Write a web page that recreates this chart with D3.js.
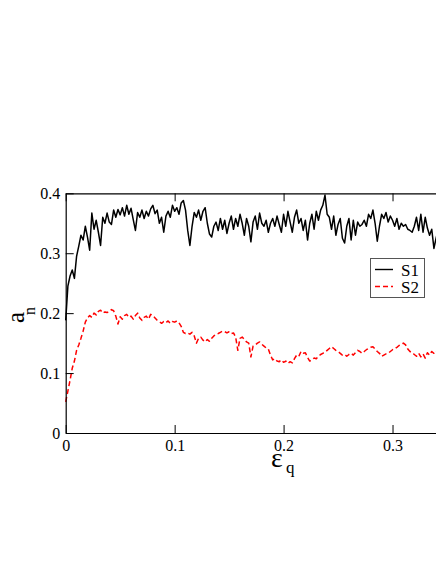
<!DOCTYPE html>
<html>
<head>
<meta charset="utf-8">
<script src="https://cdn.jsdelivr.net/npm/d3@7"></script>
<style>
  body { margin: 0; background: #fff; }
</style>
</head>
<body>
<svg width="436" height="564"></svg>
<script>
let width = 436,
    height = 564;

let serif = "Liberation Serif";

// x step of the sampled curves (epsilon_q)
let step = 0.002;

let xTicks = [0, 0.1, 0.2, 0.3];
let yTicks = [0, 0.1, 0.2, 0.3, 0.4];

let seriesNames = ["S1", "S2"];

let s1 = [
  0.188, 0.245, 0.262, 0.272, 0.258, 0.295, 0.312, 0.330, 0.322, 0.345,
  0.327, 0.305, 0.367, 0.340, 0.355, 0.335, 0.313, 0.360, 0.350, 0.367,
  0.352, 0.348, 0.372, 0.360, 0.373, 0.364, 0.376, 0.362, 0.380, 0.365,
  0.375, 0.356, 0.338, 0.368, 0.360, 0.372, 0.358, 0.370, 0.362, 0.374,
  0.380, 0.366, 0.372, 0.350, 0.360, 0.335, 0.362, 0.370, 0.360, 0.380,
  0.370, 0.376, 0.365, 0.384, 0.388, 0.372, 0.338, 0.313, 0.345, 0.368,
  0.360, 0.372, 0.355, 0.370, 0.376, 0.350, 0.332, 0.327, 0.345, 0.352,
  0.338, 0.358, 0.340, 0.355, 0.333, 0.350, 0.362, 0.340, 0.358, 0.345,
  0.365, 0.350, 0.330, 0.358, 0.345, 0.319, 0.352, 0.362, 0.340, 0.367,
  0.350, 0.345, 0.355, 0.335, 0.350, 0.358, 0.345, 0.362, 0.348, 0.335,
  0.365, 0.345, 0.370, 0.352, 0.335, 0.360, 0.372, 0.350, 0.358, 0.338,
  0.355, 0.322, 0.350, 0.365, 0.340, 0.370, 0.355, 0.372, 0.380, 0.397,
  0.365, 0.360, 0.340, 0.362, 0.330, 0.348, 0.358, 0.325, 0.317, 0.345,
  0.358, 0.322, 0.355, 0.330, 0.352, 0.345, 0.348, 0.355, 0.345, 0.365,
  0.358, 0.372, 0.350, 0.320, 0.345, 0.365, 0.358, 0.368, 0.352, 0.362,
  0.355, 0.345, 0.358, 0.340, 0.350, 0.345, 0.348, 0.340, 0.338, 0.335,
  0.345, 0.360, 0.338, 0.365, 0.335, 0.360, 0.342, 0.330, 0.340, 0.308,
  0.325, 0.340, 0.330, 0.345, 0.335, 0.340
];

let s2 = [
  0.052, 0.070, 0.088, 0.108, 0.120, 0.138, 0.147, 0.158, 0.170, 0.185,
  0.192, 0.196, 0.193, 0.200, 0.197, 0.203, 0.205, 0.200, 0.202, 0.201,
  0.203, 0.206, 0.204, 0.195, 0.182, 0.194, 0.190, 0.196, 0.198, 0.193,
  0.195, 0.190, 0.196, 0.200, 0.192, 0.188, 0.193, 0.195, 0.190, 0.198,
  0.196, 0.192, 0.188, 0.186, 0.183, 0.186, 0.184, 0.187, 0.183, 0.186,
  0.185, 0.187, 0.184, 0.178, 0.168, 0.166, 0.167, 0.165, 0.168, 0.162,
  0.150, 0.158, 0.160, 0.155, 0.152, 0.156, 0.153, 0.158, 0.162, 0.165,
  0.166, 0.168, 0.170, 0.169, 0.167, 0.169, 0.166, 0.167, 0.160, 0.138,
  0.158, 0.160, 0.156, 0.152, 0.150, 0.127, 0.145, 0.147, 0.150, 0.152,
  0.148, 0.145, 0.142, 0.140, 0.130, 0.122, 0.124, 0.120, 0.119, 0.122,
  0.118, 0.120, 0.116, 0.119, 0.117, 0.124, 0.130, 0.128, 0.136, 0.133,
  0.134, 0.126, 0.120, 0.122, 0.125, 0.124, 0.128, 0.131, 0.133, 0.135,
  0.138, 0.141, 0.144, 0.141, 0.138, 0.136, 0.133, 0.130, 0.131, 0.128,
  0.131, 0.133, 0.130, 0.134, 0.138, 0.136, 0.133, 0.136, 0.139, 0.141,
  0.143, 0.144, 0.140, 0.136, 0.133, 0.128, 0.130, 0.132, 0.133, 0.136,
  0.139, 0.141, 0.143, 0.146, 0.148, 0.150, 0.147, 0.140, 0.136, 0.134,
  0.131, 0.128, 0.133, 0.127, 0.132, 0.125, 0.134, 0.130, 0.136, 0.133,
  0.137, 0.134, 0.138, 0.135, 0.137, 0.136
];

let colors = ["#000000", "#ff0000"];
let dashes = [null, "5,3"];

let x = d3.scaleLinear().domain([0, 0.35]).range([65.7, 447]);
let y = d3.scaleLinear().domain([0, 0.4]).range([433, 193.3]);

let svg = d3.select("svg");

// curves
let line = d3.line()
  .x((d, i) => x(i * step))
  .y(d => y(d));

[s1, s2].forEach((s, k) => {
  svg.append("path")
    .datum(s)
    .attr("fill", "none")
    .attr("stroke", colors[k])
    .attr("stroke-width", 1.5)
    .attr("stroke-dasharray", dashes[k])
    .attr("stroke-linejoin", "round")
    .attr("d", line);
});

// frame with inward ticks
let fmt = d3.format("");

let axes = [
  svg.append("g")
    .attr("transform", `translate(0,${y(0)})`)
    .call(d3.axisBottom(x).tickValues(xTicks).tickFormat(fmt)
      .tickSizeInner(-8).tickSizeOuter(0).tickPadding(7)),
  svg.append("g")
    .attr("transform", `translate(0,${y(0.4)})`)
    .call(d3.axisTop(x).tickValues(xTicks).tickFormat("")
      .tickSizeInner(-8).tickSizeOuter(0)),
  svg.append("g")
    .attr("transform", `translate(${x(0)},0)`)
    .call(d3.axisLeft(y).tickValues(yTicks).tickFormat(fmt)
      .tickSizeInner(-8).tickSizeOuter(0).tickPadding(5.5)),
  svg.append("g")
    .attr("transform", `translate(${x(0.35)},0)`)
    .call(d3.axisRight(y).tickValues(yTicks).tickFormat("")
      .tickSizeInner(-8).tickSizeOuter(0))
];
axes.forEach(g => g.attr("font-family", serif).attr("font-size", 16));

svg.selectAll(".domain").attr("stroke", "#000").attr("stroke-width", 1.2);
svg.selectAll(".tick line").attr("stroke", "#000");
svg.selectAll(".tick text").attr("fill", "#000");

// axis titles
svg.append("text")
  .attr("transform", "translate(24,323) rotate(-90)")
  .attr("font-family", serif)
  .attr("font-size", 25)
  .text("a");
svg.append("text")
  .attr("transform", "translate(35,315) rotate(-90)")
  .attr("font-family", serif)
  .attr("font-size", 16)
  .text("n");

svg.append("text")
  .attr("x", 271)
  .attr("y", 467)
  .attr("font-family", serif)
  .attr("font-size", 28)
  .text("ε");
svg.append("text")
  .attr("x", 286)
  .attr("y", 473)
  .attr("font-family", serif)
  .attr("font-size", 17)
  .text("q");

// legend
let legend = svg.append("g");
legend.append("rect")
  .attr("x", 370.5).attr("y", 258.5)
  .attr("width", 54).attr("height", 39)
  .attr("fill", "#fff")
  .attr("stroke", "#555")
  .attr("stroke-width", 1);

seriesNames.forEach((name, k) => {
  let ly = 269.5 + k * 17;
  legend.append("line")
    .attr("x1", 375).attr("x2", 393)
    .attr("y1", ly).attr("y2", ly)
    .attr("stroke", colors[k])
    .attr("stroke-width", 1.4)
    .attr("stroke-dasharray", dashes[k]);
  legend.append("text")
    .attr("x", 401)
    .attr("y", ly + 6)
    .attr("font-family", serif)
    .attr("font-size", 17)
    .text(name);
});
</script>
</body>
</html>
